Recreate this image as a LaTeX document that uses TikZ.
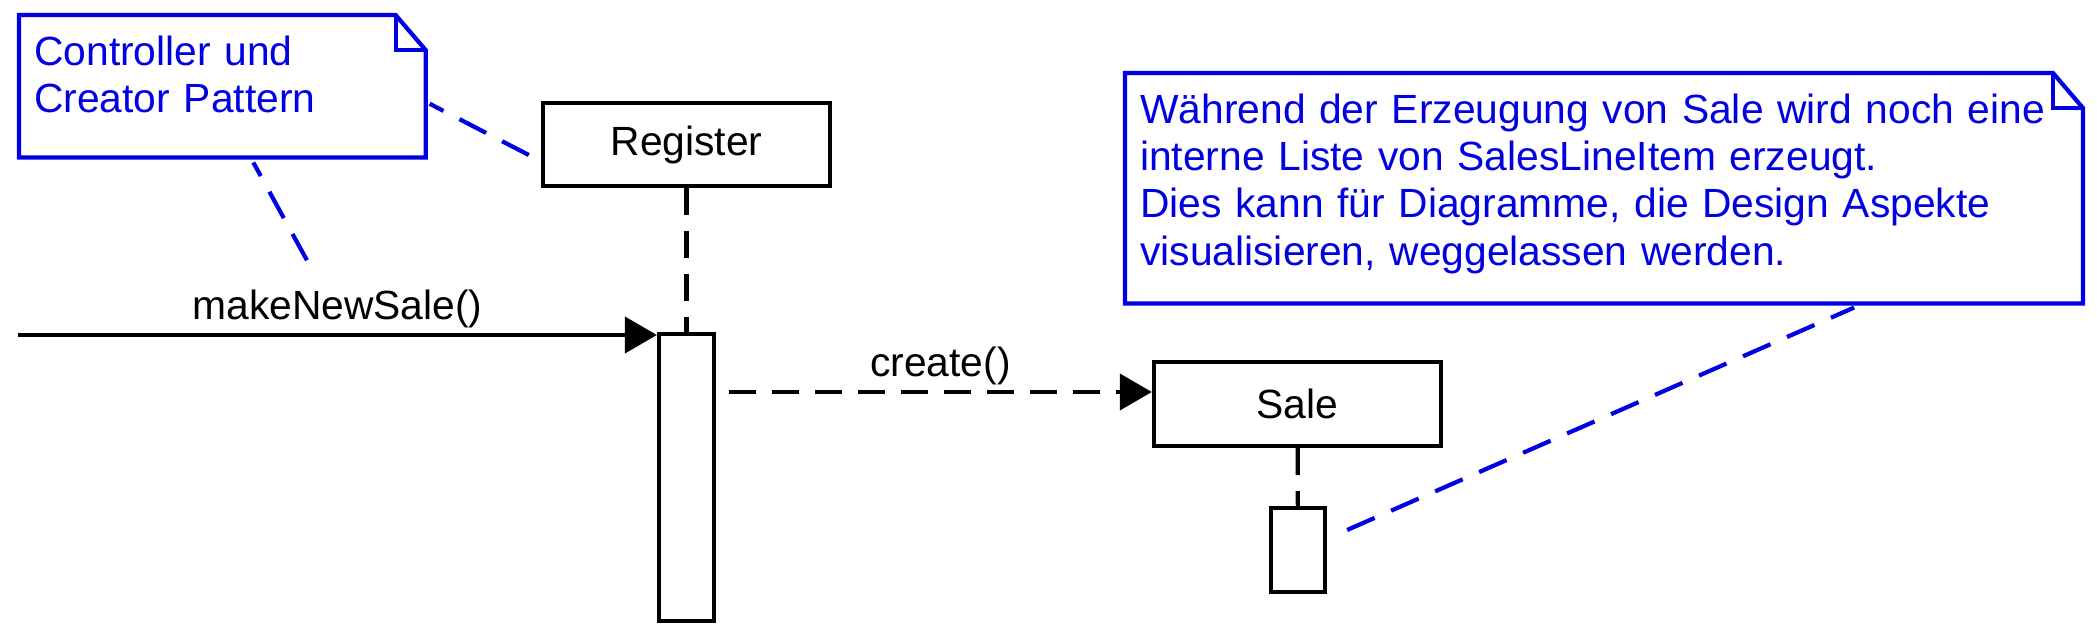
\documentclass[tikz,border=0pt]{standalone}
\usepackage{fontspec}
\setmainfont{Liberation Sans}
\usetikzlibrary{arrows.meta}
\definecolor{noteblue}{RGB}{0,0,225}
\newcommand{\umlfont}{\fontsize{11.6pt}{13.4pt}\selectfont}
\newcommand{\drawnote}[1]{%
    \draw[noteline] (#1.south west) -- (#1.north west) -- ([xshift=-0.3cm]#1.north east)
        -- ([yshift=-0.35cm]#1.north east) -- (#1.south east) -- cycle;
    \draw[noteline] ([xshift=-0.3cm]#1.north east) |- ([yshift=-0.35cm]#1.north east);}

\tikzset{
    obj/.style={draw, line width=1.2pt, minimum width=2.87cm, minimum height=0.83cm, inner sep=0pt, font=\umlfont},
    activation/.style={draw, fill=white, line width=1.2pt, minimum width=0.55cm, inner sep=0pt},
    lifeline/.style={line width=1.2pt, dash pattern=on 0.27cm off 0.16cm},
    msg/.style={line width=1.2pt, -{Triangle[length=0.32cm,width=0.36cm]}},
    msglabel/.style={above, inner sep=0pt, yshift=0.045cm, font=\umlfont},
    note/.style={anchor=north west, text=noteblue, align=left, font=\umlfont,
        inner xsep=0.145cm, inner ysep=0.2cm, text height=0.3cm},
    noteline/.style={draw=noteblue, line width=1.2pt},
    anchorline/.style={noteblue, line width=1.2pt, dash pattern=on 0.3cm off 0.18cm}
}

\begin{document}
\begin{tikzpicture}[x=0.01cm, y=-0.01cm]
    \useasboundingbox (0,0) rectangle (2097,634);
    % objects and activations
    \node[obj] (register) at (686.5,144.5) {Register};
    \node[activation, minimum height=2.87cm] (regact) at (686.5,477.5) {};
    \node[obj, minimum height=0.84cm] (sale) at (1297.5,404) {Sale};
    \node[activation, minimum width=0.54cm, minimum height=0.84cm] (saleact) at (1298,550) {};
    \draw[lifeline] (register) -- (regact);
    \draw[lifeline] (sale) -- (saleact);
    % messages
    \coordinate (caller) at (18,335);
    \draw[msg] (caller) -- (caller -| regact.west) node[msglabel, midway] (makelabel) {makeNewSale()};
    \draw[msg, lifeline] ([xshift=0.13cm, yshift=0.12cm]regact.east |- sale.west) -- ([yshift=0.12cm]sale.west)
        node[msglabel, midway] (createlabel) {create()};
    % notes
    \node[note, text width=3.76cm, text depth=0.71cm] (ctrlnote) at (19,15) {Controller und\\Creator Pattern};
    \drawnote{ctrlnote}
    \node[note, text width=9.27cm, text depth=1.59cm] (salenote) at (1125,73) {W\"ahrend der Erzeugung von Sale wird noch eine\\interne Liste von SalesLineItem erzeugt.\\Dies kann f\"ur Diagramme, die Design Aspekte\\visualisieren, weggelassen werden.};
    \drawnote{salenote}
    \draw[anchorline] ([xshift=-0.12cm, yshift=-0.105cm]register.west) -- ([xshift=0.04cm, yshift=-0.175cm]ctrlnote.east);
    \draw[anchorline] ([xshift=-0.305cm, yshift=0.28cm]makelabel.north) -- ([xshift=0.31cm, yshift=-0.05cm]ctrlnote.south);
    \draw[anchorline] ([xshift=0.2cm, yshift=0.2cm]saleact.east) -- ([xshift=2.5cm, yshift=-0.04cm]salenote.south);
\end{tikzpicture}
\end{document}
